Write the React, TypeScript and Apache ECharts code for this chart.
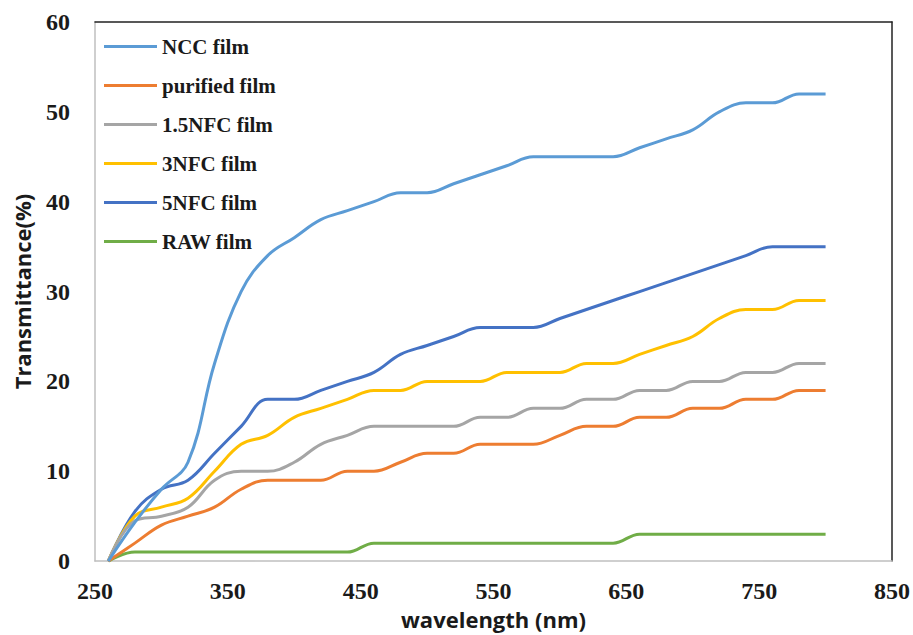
import React, { useEffect, useRef } from "react";
import * as echarts from "echarts";

const wavelengths = [260, 280, 300, 320, 340, 360, 380, 400, 420, 440, 460, 480, 500, 520, 540, 560, 580, 600, 620, 640, 660, 680, 700, 720, 740, 760, 780, 800];

const seriesNames = ["NCC film", "purified film", "1.5NFC film", "3NFC film", "5NFC film", "RAW film"];
const seriesColors = ["#5B9BD5", "#ED7D31", "#A5A5A5", "#FFC000", "#4472C4", "#70AD47"];

const nccFilm = [0, 4.3, 8, 11, 22, 30, 34, 36, 38, 39, 40, 41, 41, 42, 43, 44, 45, 45, 45, 45, 46, 47, 48, 50, 51, 51, 52, 52];
const purifiedFilm = [0, 2, 4, 5, 6, 8, 9, 9, 9, 10, 10, 11, 12, 12, 13, 13, 13, 14, 15, 15, 16, 16, 17, 17, 18, 18, 19, 19];
const nfc15Film = [0, 4.5, 5, 6, 9, 10, 10, 11, 13, 14, 15, 15, 15, 15, 16, 16, 17, 17, 18, 18, 19, 19, 20, 20, 21, 21, 22, 22];
const nfc3Film = [0, 5, 6, 7, 10, 13, 14, 16, 17, 18, 19, 19, 20, 20, 20, 21, 21, 21, 22, 22, 23, 24, 25, 27, 28, 28, 29, 29];
const nfc5Film = [0, 5.5, 8, 9, 12, 15, 18, 18, 19, 20, 21, 23, 24, 25, 26, 26, 26, 27, 28, 29, 30, 31, 32, 33, 34, 35, 35, 35];
const rawFilm = [0, 1, 1, 1, 1, 1, 1, 1, 1, 1, 2, 2, 2, 2, 2, 2, 2, 2, 2, 2, 3, 3, 3, 3, 3, 3, 3, 3];

const seriesValues = [nccFilm, purifiedFilm, nfc15Film, nfc3Film, nfc5Film, rawFilm];

const xMin = 250;
const xMax = 850;
const yMin = 0;
const yMax = 60;

export default function App() {
  const ref = useRef<HTMLDivElement>(null);

  useEffect(() => {
    if (!ref.current) return;
    const chart = echarts.init(ref.current, null, { renderer: "svg" });
    const serif = "'Liberation Serif', 'Times New Roman', serif";
    const sans = "'Open Sans', 'Noto Sans', sans-serif";

    const series = seriesNames.map((name, i) => ({
      name,
      type: "line",
      xAxisIndex: 0,
      yAxisIndex: 0,
      data: wavelengths.map((w, j) => [w, seriesValues[i][j]]),
      smooth: 0.4,
      showSymbol: false,
      symbol: "none",
      lineStyle: { color: seriesColors[i], width: 3 },
      itemStyle: { color: seriesColors[i] },
      z: 10 - i,
    }));

    chart.setOption({
      animation: false,
      backgroundColor: "#ffffff",
      grid: { left: 95, right: 20, top: 22, bottom: 70, containLabel: false },
      legend: {
        orient: "vertical",
        left: 104,
        top: 36,
        padding: 0,
        icon: "rect",
        itemWidth: 53,
        itemHeight: 3,
        itemGap: 18,
        data: seriesNames,
        textStyle: {
          fontFamily: serif,
          fontWeight: "bold",
          fontSize: 21,
          lineHeight: 21,
          color: "#1a1a1a",
        },
      },
      xAxis: [
        {
          type: "value",
          min: xMin,
          max: xMax,
          interval: 50,
          name: "wavelength (nm)",
          nameLocation: "middle",
          nameGap: 36,
          nameTextStyle: { fontFamily: sans, fontWeight: "bold", fontSize: 22, color: "#1a1a1a" },
          axisLine: { show: true, lineStyle: { color: "#BFBFBF", width: 1.5 } },
          axisTick: { show: false },
          splitLine: { show: false },
          axisLabel: {
            margin: 18,
            fontFamily: serif,
            fontWeight: "bold",
            fontSize: 24,
            color: "#1a1a1a",
            formatter: (v: number) => ((v - xMin) % 100 === 0 ? String(v) : ""),
          },
        },
        {
          type: "value",
          position: "top",
          min: xMin,
          max: xMax,
          interval: 50,
          axisLine: { show: true, onZero: false, lineStyle: { color: "#222222", width: 1.5 } },
          axisTick: { show: false },
          axisLabel: { show: false },
          splitLine: { show: false },
        },
      ],
      yAxis: [
        {
          type: "value",
          min: yMin,
          max: yMax,
          interval: 10,
          name: "Transmittance(%)",
          nameLocation: "middle",
          nameGap: 62,
          nameTextStyle: { fontFamily: sans, fontWeight: "bold", fontSize: 22, color: "#1a1a1a" },
          axisLine: { show: true, lineStyle: { color: "#BFBFBF", width: 1.5 } },
          axisTick: { show: false },
          splitLine: { show: false },
          axisLabel: {
            margin: 25,
            fontFamily: serif,
            fontWeight: "bold",
            fontSize: 24,
            color: "#1a1a1a",
          },
        },
        {
          type: "value",
          position: "right",
          min: yMin,
          max: yMax,
          interval: 10,
          axisLine: { show: true, onZero: false, lineStyle: { color: "#222222", width: 1.5 } },
          axisTick: { show: false },
          axisLabel: { show: false },
          splitLine: { show: false },
        },
      ],
      series,
    });

    return () => chart.dispose();
  }, []);

  return <div ref={ref} style={{ width: 913, height: 635, position: "absolute", left: 0, top: 0 }} />;
}
